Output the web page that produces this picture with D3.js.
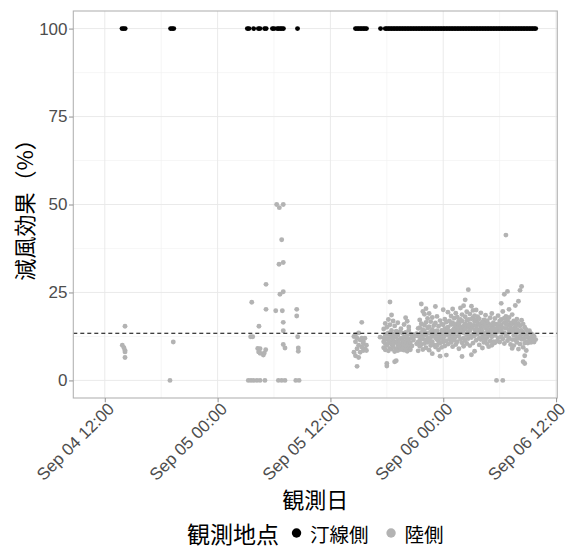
<!DOCTYPE html>
<html><head><meta charset="utf-8">
<script src="https://cdn.jsdelivr.net/npm/d3@7"></script>
<style>body{margin:0;background:#fff;}svg{display:block;}</style>
</head><body><svg id="c" width="571" height="552"></svg>
<script>
// ---- data (hours counted from Sep 04 00:00) ----
const baseYear = 2019, baseMonth = 8, baseDay = 4;
const xDomainHours = [8.65, 60.14];
const yDomain = [-5, 105];
const yTicks = [0, 25, 50, 75, 100];
const seriesNames = ["汀線側", "陸側"];
const seriesColors = ["#000000", "#B3B3B3"];
const legendTitle = "観測地点";
const xTitle = "観測日";
const yTitle = "減風効果（%）";
const meanEffect = 13.4;

// 汀線側 (shoreline side): always 100%
const shoreValue = 100;
const shoreHours = [
  13.83, 14.00, 14.17,
  19.00, 19.17, 19.33,
  27.17, 27.33, 27.83, 28.33, 28.50, 29.00, 29.17, 29.83, 30.00, 30.33, 30.50, 30.67, 30.83, 31.00, 32.50,
  38.67, 38.83, 39.00, 39.17, 39.33, 39.50, 39.67, 39.83,
  41.33,
  41.83, 42.00, 42.17, 42.33, 42.50, 42.67, 42.83, 43.00, 43.17, 43.33, 43.50, 43.67, 43.83,
  44.00, 44.17, 44.33, 44.50, 44.67, 44.83, 45.00, 45.17, 45.33, 45.50, 45.67, 45.83,
  46.00, 46.17, 46.33, 46.50, 46.67, 46.83, 47.00, 47.17, 47.33, 47.50, 47.67, 47.83,
  48.00, 48.17, 48.33, 48.50, 48.67, 48.83, 49.00, 49.17, 49.33, 49.50, 49.67, 49.83,
  50.00, 50.17, 50.33, 50.50, 50.67, 50.83, 51.00, 51.17, 51.33, 51.50, 51.67, 51.83,
  52.00, 52.17, 52.33, 52.50, 52.67, 52.83, 53.00, 53.17, 53.33, 53.50, 53.67, 53.83,
  54.00, 54.17, 54.33, 54.50, 54.67, 54.83, 55.00, 55.17, 55.33, 55.50, 55.67, 55.83,
  56.00, 56.17, 56.33, 56.50, 56.67, 56.83, 57.00, 57.17, 57.33, 57.50, 57.67, 57.83
];

// 陸側 (land side): scattered early observations [hour, value]
const landEarly = [
  [13.86, 10.0], [14.03, 9.3], [14.15, 15.4], [14.15, 8.5], [14.15, 8.1], [14.15, 6.5],
  [18.94, 0], [19.29, 10.9],
  [27.27, 0], [27.55, 0], [27.84, 0], [28.19, 0], [28.51, 0], [29.04, 0],
  [30.46, 0], [30.82, 0], [31.17, 0], [32.31, 0], [32.66, 0],
  [27.52, 12.4], [27.73, 12.4], [27.63, 22.2], [28.40, 15.4],
  [28.27, 9.1], [28.51, 9.0], [28.37, 8.1], [28.51, 7.7],
  [29.12, 8.7], [28.97, 7.8], [28.86, 7.2], [29.15, 27.3], [29.15, 20.2],
  [30.18, 19.8], [30.88, 19.8], [30.29, 50.0], [30.56, 49.1], [30.99, 50.0],
  [30.82, 40.0], [30.53, 33.0], [30.99, 33.5], [30.64, 24.5], [30.99, 25.2],
  [30.99, 16.5], [30.99, 14.1], [30.99, 10.2], [31.17, 9.2],
  [32.41, 20.2], [32.41, 18.3], [32.52, 12.4], [32.59, 9.2], [32.59, 8.3],
  [38.50, 12.5], [38.50, 8.0], [38.67, 11.0], [38.67, 7.0], [38.67, 13.0],
  [38.83, 9.0], [38.83, 4.0], [38.83, 12.0], [39.00, 10.0], [39.00, 6.5], [39.00, 13.5],
  [39.17, 11.5], [39.17, 8.0], [39.33, 16.5], [39.33, 12.0], [39.33, 9.5],
  [39.50, 11.0], [39.50, 8.5], [39.50, 10.5], [39.67, 9.0], [39.67, 12.0],
  [39.83, 8.5], [39.83, 10.0], [41.28, 12.3]
];

// 陸側 main period: [hour, values observed at that time...]
const landRows = [
  [41.67, 12.1, 9.3, 14.6, 11.0], [41.83, 10.5, 16.2, 8.7, 13.0, 11.9], [42.00, 11.8, 4.8, 9.9, 15.1, 4.1, 13.2],
  [42.17, 13.5, 8.4, 17.3, 10.6, 12.0], [42.33, 22.3, 12.7, 9.1, 15.8, 10.9], [42.50, 14.2, 10.3, 18.6, 8.9, 12.1],
  [42.67, 11.4, 16.9, 9.6, 13.1, 10.2], [42.83, 5.3, 12.5, 8.2, 15.5, 10.8], [43.00, 5.6, 11.0, 14.0, 9.0, 12.4],
  [43.17, 10.1, 12.9, 8.5, 16.4, 11.3], [43.33, 9.5, 13.8, 11.6, 10.2], [43.50, 8.8, 12.0, 10.4, 14.7, 9.6],
  [43.67, 9.7, 11.3, 13.4, 8.9], [43.83, 8.6, 10.9, 15.9, 12.3, 9.8], [44.00, 9.2, 13.6, 11.1, 17.8, 10.1],
  [44.17, 10.0, 16.8, 12.6, 8.3, 11.5], [44.33, 9.4, 14.3, 11.7, 15.2, 10.4], [44.50, 8.7, 10.7, 13.2, 9.5],
  [44.67, 9.8, 12.2], [44.83, 13.0, 11.5], [45.00, 12.6], [45.17, 13.3, 10.4],
  [45.33, 10.9, 14.8, 8.4, 12.6], [45.50, 12.4, 17.2, 9.7, 15.0, 11.2], [45.67, 21.7, 13.6, 10.2, 16.1, 12.0],
  [45.83, 11.8, 19.6, 8.8, 14.4, 13.0], [46.00, 15.7, 10.5, 12.9, 18.8, 14.0], [46.17, 20.4, 13.1, 9.3, 16.5, 11.4],
  [46.33, 12.0, 17.6, 10.8, 14.9, 13.3], [46.50, 19.0, 11.4, 15.3, 8.6, 13.5], [46.67, 13.9, 9.9, 16.7, 12.2, 11.0],
  [46.83, 7.6, 14.5, 11.0, 17.9, 12.8], [47.00, 12.8, 10.1, 15.6, 13.9], [47.17, 21.0, 13.7, 9.5, 16.3, 12.1],
  [47.33, 11.6, 18.2, 14.1, 10.0, 12.9], [47.50, 15.4, 12.5, 8.7, 11.1], [47.67, 13.2, 17.0, 10.6, 6.9, 12.0],
  [47.83, 16.0, 11.9, 14.2, 9.4, 13.0], [48.00, 20.1, 12.3, 15.8, 10.9, 13.9], [48.17, 14.6, 9.8, 17.4, 12.7, 11.3],
  [48.33, 11.2, 16.6, 13.5, 7.2, 14.8], [48.50, 19.4, 12.9, 10.3, 15.1, 13.7], [48.67, 14.0, 11.7, 16.9, 12.8],
  [48.83, 13.3, 18.3, 10.8, 15.9, 12.0], [49.00, 12.1, 16.4, 9.6, 20.3, 14.2], [49.17, 14.8, 11.5, 17.7, 13.0, 15.9],
  [49.33, 10.2, 15.6, 19.1, 12.4, 14.0], [49.50, 16.2, 13.8, 11.0, 18.0, 14.9], [49.67, 12.6, 17.1, 9.0, 14.9, 16.0],
  [49.83, 15.2, 20.6, 11.8, 13.7, 17.3], [50.00, 18.7, 10.7, 14.3, 16.8, 6.8], [50.17, 13.5, 21.2, 12.0, 9.7, 15.4],
  [50.33, 16.0, 22.9, 14.6, 11.3, 18.1], [50.50, 19.5, 12.8, 15.7, 10.5, 17.0], [50.67, 25.8, 17.3, 13.9, 11.9, 15.2],
  [50.83, 14.2, 18.9, 9.9, 16.1, 12.7], [51.00, 21.1, 12.2, 15.0, 7.3, 17.5], [51.17, 17.8, 13.1, 19.9, 10.6, 15.6],
  [51.33, 12.7, 16.7, 14.4, 8.3, 18.4], [51.50, 15.5, 20.0, 11.4, 13.6, 17.2], [51.67, 18.1, 13.2, 16.3, 14.5],
  [51.83, 12.0, 15.8, 10.1, 17.5, 13.6], [52.00, 14.7, 19.2, 11.6, 13.4, 16.1], [52.17, 16.6, 12.3, 9.2, 14.0, 15.3],
  [52.33, 13.1, 17.2, 10.8, 15.4, 12.2], [52.50, 11.5, 14.9, 18.5, 12.6, 16.3], [52.67, 15.1, 10.4, 13.8, 17.0, 12.3],
  [52.83, 12.9, 16.1, 9.6, 14.2], [53.00, 14.5, 11.2, 17.8, 13.0, 15.7], [53.17, 10.0, 15.3, 12.4, 19.0, 13.9],
  [53.33, 16.4, 13.3, 11.0, 14.8], [53.50, 14.1, 17.6, 10.7, 12.8, 15.9], [53.67, 0, 13.7, 16.0, 11.1, 14.6],
  [53.83, 15.6, 12.1, 18.4, 13.8], [54.00, 13.9, 10.9, 16.9, 14.9], [54.17, 17.3, 12.4, 14.6, 21.9, 15.8],
  [54.33, 0, 15.0, 11.8, 19.6, 13.6], [54.50, 24.5, 13.5, 16.5, 10.5, 17.7], [54.67, 41.3, 18.2, 12.7, 14.8, 16.0],
  [54.83, 25.3, 15.9, 11.3, 13.2, 17.1], [55.00, 17.9, 12.0, 20.2, 14.3, 15.6], [55.17, 16.3, 10.2, 13.8, 15.0],
  [55.33, 14.0, 18.7, 11.6, 9.1, 16.1], [55.50, 12.8, 16.9, 9.9, 14.7, 13.6], [55.67, 21.3, 15.2, 11.5, 13.1, 16.4],
  [55.83, 17.4, 10.8, 14.5, 12.2, 15.8], [56.00, 22.5, 13.9, 16.2, 8.9, 12.0], [56.17, 25.6, 12.6, 15.5, 10.3, 14.1],
  [56.33, 26.7, 14.2, 11.7, 17.1, 13.0], [56.50, 5.3, 13.4, 16.0, 9.4, 11.8], [56.67, 4.8, 12.1, 15.1, 7.0, 10.6],
  [56.83, 11.0, 14.4, 8.5, 12.7], [57.00, 13.5, 10.6, 12.3], [57.17, 14.1, 11.4],
  [57.33, 12.0, 13.3, 10.8], [57.50, 13.0, 11.9], [57.67, 12.5, 10.9], [57.83, 11.6]
];

// ---- build records ----
const base = new Date(baseYear, baseMonth, baseDay, 0, 0, 0);
const toDate = h => new Date(base.getTime() + Math.round(h * 60) * 60000);
const shoreData = shoreHours.map(h => ({t: toDate(h), v: shoreValue, s: 0}));
const landData = landEarly.map(([h, v]) => ({t: toDate(h), v, s: 1}));
landRows.forEach(([h, ...vals]) => vals.forEach(v => landData.push({t: toDate(h), v, s: 1})));

// ---- layout ----
const panel = {left: 73.3, right: 557.3, top: 11, bottom: 398};
const latin = "'Liberation Sans', Arial, Helvetica, sans-serif";
const cjk = "'Noto Sans CJK JP', 'Noto Sans CJK SC', sans-serif";

const svg = d3.select("#c");
const x = d3.scaleTime().domain(xDomainHours.map(toDate)).range([panel.left, panel.right]);
const y = d3.scaleLinear().domain(yDomain).range([panel.bottom, panel.top]);

const g = svg.append("g");
g.append("rect").attr("x", panel.left).attr("y", panel.top)
  .attr("width", panel.right - panel.left).attr("height", panel.bottom - panel.top).attr("fill", "#fff");

// grids
const majorX = x.ticks(d3.timeHour.every(12));
const minorX = x.ticks(d3.timeHour.every(6)).filter(d => d.getHours() % 12 !== 0);
const minorY = yTicks.slice(0, -1).map((d, i) => (d + yTicks[i + 1]) / 2);
g.selectAll(".gmx").data(minorX).join("line")
  .attr("x1", d => x(d)).attr("x2", d => x(d)).attr("y1", panel.top).attr("y2", panel.bottom)
  .attr("stroke", "#F0F0F0").attr("stroke-width", 0.6);
g.selectAll(".gmy").data(minorY).join("line")
  .attr("x1", panel.left).attr("x2", panel.right).attr("y1", d => y(d)).attr("y2", d => y(d))
  .attr("stroke", "#F0F0F0").attr("stroke-width", 0.6);
g.selectAll(".gMx").data(majorX).join("line")
  .attr("x1", d => x(d)).attr("x2", d => x(d)).attr("y1", panel.top).attr("y2", panel.bottom)
  .attr("stroke", "#E8E8E8").attr("stroke-width", 0.9);
g.selectAll(".gMy").data(yTicks).join("line")
  .attr("x1", panel.left).attr("x2", panel.right).attr("y1", d => y(d)).attr("y2", d => y(d))
  .attr("stroke", "#E8E8E8").attr("stroke-width", 0.9);

// points
const allData = shoreData.concat(landData);
g.selectAll(".pt").data(allData).join("circle")
  .attr("cx", d => x(d.t)).attr("cy", d => y(d.v)).attr("r", 2.45)
  .attr("fill", d => seriesColors[d.s]);

// mean dashed line
g.append("line").attr("x1", panel.left).attr("x2", panel.right)
  .attr("y1", y(meanEffect)).attr("y2", y(meanEffect))
  .attr("stroke", "#000").attr("stroke-width", 1.1).attr("stroke-dasharray", "4,3");

// border
g.append("rect").attr("x", panel.left).attr("y", panel.top)
  .attr("width", panel.right - panel.left).attr("height", panel.bottom - panel.top)
  .attr("fill", "none").attr("stroke", "#B3B3B3").attr("stroke-width", 1.1);

// axes
const yAxis = svg.append("g").attr("transform", `translate(${panel.left},0)`)
  .call(d3.axisLeft(y).tickValues(yTicks).tickSize(4.3).tickPadding(1.5));
const xAxis = svg.append("g").attr("transform", `translate(0,${panel.bottom})`)
  .call(d3.axisBottom(x).tickValues(majorX).tickSize(4.3).tickFormat(d3.timeFormat("%b %d %H:%M")));
[yAxis, xAxis].forEach(a => {
  a.select(".domain").remove();
  a.selectAll(".tick line").attr("stroke", "#9A9A9A").attr("stroke-width", 1.1);
  a.selectAll(".tick text").attr("fill", "#4D4D4D").style("font-family", latin).style("font-size", "17px");
});
xAxis.selectAll(".tick text")
  .attr("text-anchor", "end").attr("y", 0).attr("dy", "0.75em")
  .attr("transform", "translate(1,3) rotate(-45)");

// titles
svg.append("text").attr("x", (panel.left + panel.right) / 2).attr("y", 498)
  .attr("text-anchor", "middle").attr("dominant-baseline", "central")
  .style("font-family", cjk).style("font-size", "22px").attr("fill", "#000").text(xTitle);
svg.append("text").attr("transform", `translate(23,${(panel.top + panel.bottom) / 2}) rotate(-90)`)
  .attr("text-anchor", "middle").attr("dominant-baseline", "central")
  .style("font-family", cjk).style("font-size", "22px").attr("fill", "#000").text(yTitle);

// legend
const lg = svg.append("g");
const ly = 533;
const lt = lg.append("text").attr("y", ly).attr("dominant-baseline", "central")
  .style("font-family", cjk).style("font-size", "23px").text(legendTitle);
let cur = lt.node().getComputedTextLength() + 9;
seriesNames.forEach((name, i) => {
  lg.append("circle").attr("cx", cur + 8.5).attr("cy", ly).attr("r", 4.7).attr("fill", seriesColors[i]);
  cur += 17 + 5;
  const t = lg.append("text").attr("x", cur).attr("y", ly).attr("dominant-baseline", "central")
    .style("font-family", cjk).style("font-size", "19.5px").text(name);
  cur += t.node().getComputedTextLength() + (i < seriesNames.length - 1 ? 14 : 0);
});
lg.attr("transform", `translate(${(panel.left + panel.right) / 2 - cur / 2},0)`);
</script>
</body></html>
